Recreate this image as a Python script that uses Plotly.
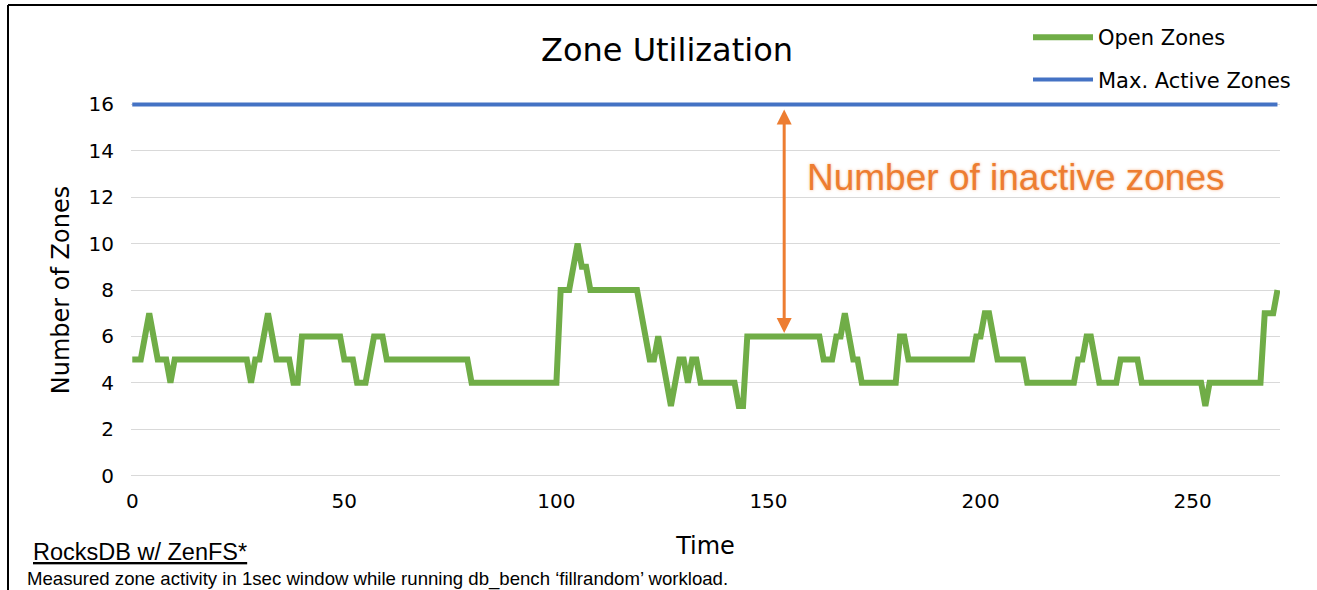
import plotly.graph_objects as go

# ---- data -------------------------------------------------------------
time_s = list(range(271))

open_zones = [
    5, 5, 5, 6, 7, 6, 5, 5, 5, 4,
    5, 5, 5, 5, 5, 5, 5, 5, 5, 5,
    5, 5, 5, 5, 5, 5, 5, 5, 4, 5,
    5, 6, 7, 6, 5, 5, 5, 5, 4, 4,
    6, 6, 6, 6, 6, 6, 6, 6, 6, 6,
    5, 5, 5, 4, 4, 4, 5, 6, 6, 6,
    5, 5, 5, 5, 5, 5, 5, 5, 5, 5,
    5, 5, 5, 5, 5, 5, 5, 5, 5, 5,
    4, 4, 4, 4, 4, 4, 4, 4, 4, 4,
    4, 4, 4, 4, 4, 4, 4, 4, 4, 4,
    4, 8, 8, 8, 9, 10, 9, 9, 8, 8,
    8, 8, 8, 8, 8, 8, 8, 8, 8, 8,
    7, 6, 5, 5, 6, 5, 4, 3, 4, 5,
    5, 4, 5, 5, 4, 4, 4, 4, 4, 4,
    4, 4, 4, 3, 3, 6, 6, 6, 6, 6,
    6, 6, 6, 6, 6, 6, 6, 6, 6, 6,
    6, 6, 6, 5, 5, 5, 6, 6, 7, 6,
    5, 5, 4, 4, 4, 4, 4, 4, 4, 4,
    4, 6, 6, 5, 5, 5, 5, 5, 5, 5,
    5, 5, 5, 5, 5, 5, 5, 5, 5, 6,
    6, 7, 7, 6, 5, 5, 5, 5, 5, 5,
    5, 4, 4, 4, 4, 4, 4, 4, 4, 4,
    4, 4, 4, 5, 5, 6, 6, 5, 4, 4,
    4, 4, 4, 5, 5, 5, 5, 5, 4, 4,
    4, 4, 4, 4, 4, 4, 4, 4, 4, 4,
    4, 4, 4, 3, 4, 4, 4, 4, 4, 4,
    4, 4, 4, 4, 4, 4, 4, 7, 7, 7,
    8,
]

MAX_ACTIVE_ZONES = 16
max_active = [MAX_ACTIVE_ZONES] * len(time_s)

x_ticks = [0, 50, 100, 150, 200, 250]
y_ticks = [0, 2, 4, 6, 8, 10, 12, 14, 16]

# ---- layout constants -------------------------------------------------
W, H = 1317, 590
M_L, M_R, M_T, M_B = 131, 37, 101, 111
X_RANGE = [-0.3, 270.6]
Y_RANGE = [-0.15, 16.15]

GREEN = "#70AD47"
BLUE = "#4472C4"
ORANGE = "#ED7D31"
GRID = "#D9D9D9"
UI_FONT = "DejaVu Sans"
NOTE_FONT = "Liberation Sans"

plot_w = W - M_L - M_R
plot_h = H - M_T - M_B


def px_to_paper_x(px):
    return (px - M_L) / plot_w


def py_to_paper_y(py):
    return (H - M_B - py) / plot_h


fig = go.Figure()

fig.add_trace(go.Scatter(
    x=time_s, y=open_zones, mode="lines", name="Open Zones",
    legendgroup="open",
    line=dict(color=GREEN, width=6),
))
fig.add_trace(go.Scatter(
    x=time_s, y=max_active, mode="lines", name="Max. Active Zones",
    legendgroup="max",
    line=dict(color=BLUE, width=4),
))

fig.update_layout(
    width=W, height=H, autosize=False,
    margin=dict(l=M_L, r=M_R, t=M_T, b=M_B, pad=0),
    paper_bgcolor="white", plot_bgcolor="white",
    font=dict(family=UI_FONT, color="black"),
    title=dict(
        text="Zone Utilization",
        font=dict(family=UI_FONT, size=32, color="black"),
        x=667 / W, xanchor="center", xref="container",
        y=1 - 50 / H, yanchor="middle", yref="container",
    ),
    legend=dict(
        x=px_to_paper_x(1028), xanchor="left",
        y=py_to_paper_y(17), yanchor="top",
        font=dict(family=UI_FONT, size=21, color="black"),
        bgcolor="rgba(0,0,0,0)",
        traceorder="grouped", tracegroupgap=12,
        itemwidth=60,
    ),
    showlegend=True,
)

fig.update_xaxes(
    range=X_RANGE, tickvals=x_ticks, ticktext=[str(v) for v in x_ticks],
    showgrid=False, zeroline=False, showline=False, ticks="",
    tickfont=dict(family=UI_FONT, size=20, color="black"),
    ticklabelstandoff=8,
    title=dict(text="Time", font=dict(family=UI_FONT, size=24, color="black"),
               standoff=25),
)
fig.update_yaxes(
    range=Y_RANGE, tickvals=y_ticks, ticktext=[str(v) for v in y_ticks],
    showgrid=True, gridcolor=GRID, gridwidth=1,
    zeroline=False, showline=False, ticks="",
    tickfont=dict(family=UI_FONT, size=20, color="black"),
    ticklabelstandoff=16,
    title=dict(text="Number of Zones",
               font=dict(family=UI_FONT, size=24, color="black"),
               standoff=12),
)

# double-headed arrow showing the gap between open and max active zones
ARROW_T = 153.7
fig.add_annotation(
    x=ARROW_T, y=6.15, ax=ARROW_T, ay=15.85,
    xref="x", yref="y", axref="x", ayref="y",
    text="", showarrow=True,
    arrowhead=2, startarrowhead=2, arrowside="end+start",
    arrowsize=1, startarrowsize=1, arrowwidth=3, arrowcolor=ORANGE,
)
fig.add_annotation(
    x=158.6, y=12.84, xref="x", yref="y",
    xanchor="left", yanchor="middle", showarrow=False,
    text="Number of inactive zones",
    font=dict(family=NOTE_FONT, size=37, color=ORANGE,
              shadow="0px 0px 3px rgba(237,125,49,0.55)"),
)

# footnote text below the chart
fig.add_annotation(
    x=px_to_paper_x(31), y=py_to_paper_y(552), xref="paper", yref="paper",
    xanchor="left", yanchor="middle", showarrow=False,
    text="<u>RocksDB w/ ZenFS*</u>",
    font=dict(family=NOTE_FONT, size=23.5, color="black"),
)
fig.add_annotation(
    x=px_to_paper_x(25), y=py_to_paper_y(579), xref="paper", yref="paper",
    xanchor="left", yanchor="middle", showarrow=False,
    text="Measured zone activity in 1sec window while running db_bench \u2018fillrandom\u2019 workload.",
    font=dict(family=NOTE_FONT, size=18.6, color="black"),
)

# frame along the top and left edges of the page
fig.add_shape(type="line", xref="paper", yref="paper",
              x0=px_to_paper_x(8), x1=px_to_paper_x(W + 5),
              y0=py_to_paper_y(5), y1=py_to_paper_y(5),
              line=dict(color="black", width=2))
fig.add_shape(type="line", xref="paper", yref="paper",
              x0=px_to_paper_x(8), x1=px_to_paper_x(8),
              y0=py_to_paper_y(5), y1=py_to_paper_y(H + 5),
              line=dict(color="black", width=2))

fig.write_html("out.html")
